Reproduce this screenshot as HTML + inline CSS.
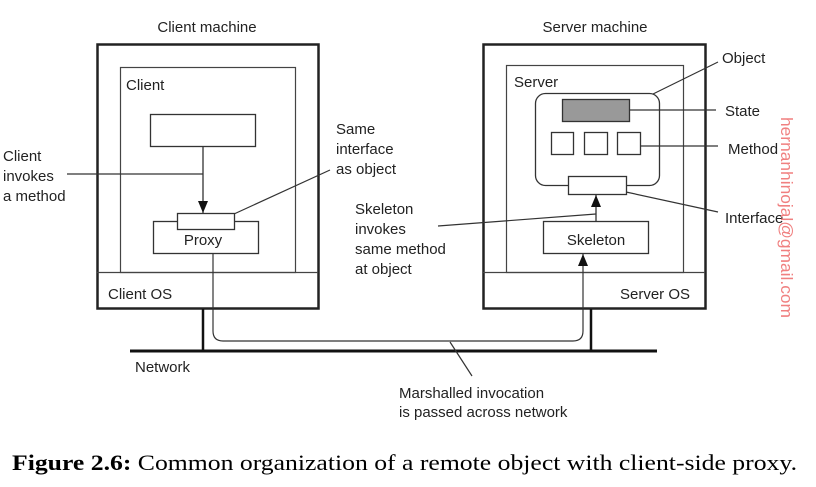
<!DOCTYPE html>
<html><head><meta charset="utf-8"><style>
html,body{margin:0;padding:0;background:#fff;}
svg{display:block;}
.t{font-family:"Liberation Sans",sans-serif;font-size:15px;fill:#222;}
</style></head><body>
<svg width="816" height="487" viewBox="0 0 816 487" xmlns="http://www.w3.org/2000/svg">
<defs>
<marker id="ah" markerWidth="12" markerHeight="10" refX="12" refY="5" orient="auto" markerUnits="userSpaceOnUse" viewBox="0 0 12 10">
<path d="M0,0 L12,5 L0,10 Z" fill="#111"/></marker>
</defs>
<text class="t" x="207" y="32" text-anchor="middle">Client machine</text>
<text class="t" x="595" y="32" text-anchor="middle">Server machine</text>
<!-- Client machine -->
<rect x="97.5" y="44.5" width="221" height="264" fill="none" stroke="#222" stroke-width="2.5"/>
<rect x="120.5" y="67.5" width="175" height="205" fill="none" stroke="#444" stroke-width="1.2"/>
<line x1="97" y1="272.5" x2="318" y2="272.5" stroke="#444" stroke-width="1.2"/>
<text class="t" x="126" y="90">Client</text>
<text class="t" x="108" y="299">Client OS</text>
<rect x="150.5" y="114.5" width="105" height="32" fill="none" stroke="#333" stroke-width="1.3"/>
<line x1="203" y1="146" x2="203" y2="213" stroke="#333" stroke-width="1.3" marker-end="url(#ah)"/>
<rect x="153.5" y="221.5" width="105" height="32" fill="#fff" stroke="#333" stroke-width="1.3"/>
<rect x="177.5" y="213.5" width="57" height="16" fill="#fff" stroke="#333" stroke-width="1.3"/>
<text class="t" x="203" y="245" text-anchor="middle">Proxy</text>
<!-- Server machine -->
<rect x="483.5" y="44.5" width="222" height="264" fill="none" stroke="#222" stroke-width="2.5"/>
<rect x="506.5" y="65.5" width="177" height="207" fill="none" stroke="#444" stroke-width="1.2"/>
<line x1="483" y1="272.5" x2="705" y2="272.5" stroke="#444" stroke-width="1.2"/>
<text class="t" x="514" y="87">Server</text>
<text class="t" x="620" y="299">Server OS</text>
<rect x="535.5" y="93.5" width="124" height="92" rx="10" fill="none" stroke="#333" stroke-width="1.3"/>
<rect x="562.5" y="99.5" width="67" height="22" fill="#999" stroke="#333" stroke-width="1.3"/>
<rect x="551.5" y="132.5" width="22" height="22" fill="#fff" stroke="#333" stroke-width="1.3"/>
<rect x="584.5" y="132.5" width="23" height="22" fill="#fff" stroke="#333" stroke-width="1.3"/>
<rect x="617.5" y="132.5" width="23" height="22" fill="#fff" stroke="#333" stroke-width="1.3"/>
<rect x="568.5" y="176.5" width="58" height="18" fill="#fff" stroke="#333" stroke-width="1.3"/>
<line x1="596" y1="221" x2="596" y2="195" stroke="#333" stroke-width="1.3" marker-end="url(#ah)"/>
<rect x="543.5" y="221.5" width="105" height="32" fill="#fff" stroke="#333" stroke-width="1.3"/>
<text class="t" x="596" y="245" text-anchor="middle">Skeleton</text>
<!-- Network -->
<line x1="130" y1="351" x2="657" y2="351" stroke="#111" stroke-width="3"/>
<line x1="203" y1="309" x2="203" y2="351" stroke="#111" stroke-width="2.5"/>
<line x1="591" y1="309" x2="591" y2="351" stroke="#111" stroke-width="2.5"/>
<path d="M213,253 L213,331 Q213,341 223,341 L573,341 Q583,341 583,331 L583,254" fill="none" stroke="#333" stroke-width="1.2" marker-end="url(#ah)"/>
<text class="t" x="135" y="372">Network</text>
<!-- labels and leaders -->
<text class="t" x="3" y="161">Client</text>
<text class="t" x="3" y="181">invokes</text>
<text class="t" x="3" y="201">a method</text>
<line x1="67" y1="174" x2="203" y2="174" stroke="#333" stroke-width="1.2"/>
<text class="t" x="336" y="134">Same</text>
<text class="t" x="336" y="154">interface</text>
<text class="t" x="336" y="174">as object</text>
<line x1="234" y1="214" x2="330" y2="170" stroke="#333" stroke-width="1.2"/>
<text class="t" x="355" y="214">Skeleton</text>
<text class="t" x="355" y="234">invokes</text>
<text class="t" x="355" y="254">same method</text>
<text class="t" x="355" y="274">at object</text>
<line x1="438" y1="226" x2="596" y2="214" stroke="#333" stroke-width="1.2"/>
<text class="t" x="722" y="63">Object</text>
<line x1="653" y1="94" x2="718" y2="62" stroke="#333" stroke-width="1.2"/>
<text class="t" x="725" y="116">State</text>
<line x1="629" y1="110" x2="716" y2="110" stroke="#333" stroke-width="1.2"/>
<text class="t" x="728" y="154">Method</text>
<line x1="640" y1="146" x2="718" y2="146" stroke="#333" stroke-width="1.2"/>
<text class="t" x="725" y="223">Interface</text>
<line x1="626" y1="192" x2="718" y2="212" stroke="#333" stroke-width="1.2"/>
<line x1="450" y1="342" x2="472" y2="376" stroke="#333" stroke-width="1.2"/>
<text class="t" x="399" y="398">Marshalled invocation</text>
<text class="t" x="399" y="417">is passed across network</text>
<!-- watermark -->
<text x="781" y="117" transform="rotate(90 781 117)" textLength="201" lengthAdjust="spacingAndGlyphs" style="font-family:'Liberation Sans',sans-serif;font-size:17px;fill:#f08080;">hernanhinojal@gmail.com</text>
<!-- caption -->
<text x="12" y="470" textLength="785" lengthAdjust="spacingAndGlyphs" style="font-family:'Liberation Serif',serif;font-size:22px;fill:#000;"><tspan font-weight="bold">Figure 2.6:</tspan> Common organization of a remote object with client-side proxy.</text>
</svg>
</body></html>
